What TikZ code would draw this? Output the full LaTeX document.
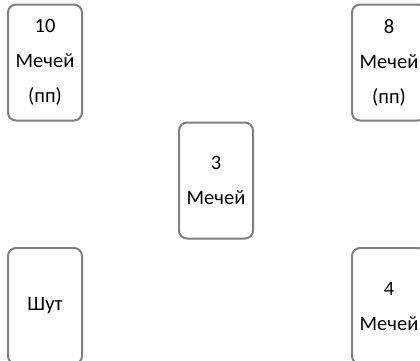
\documentclass[tikz,border=0pt]{standalone}
\usepackage{fontspec}
\setmainfont{Carlito}
\usepackage{tikz}

\begin{document}
\begin{tikzpicture}[x=1pt, y=-1pt,
card/.style={rectangle, rounded corners=8pt, draw=black!50, line width=2pt, fill=white,
  minimum width=74pt, minimum height=116pt, align=center, inner sep=0pt,
  font=\fontsize{20.5}{35}\selectfont}
]
\useasboundingbox (0,0) rectangle (420,360);
%Cards
\node[card]      (tl)     at (45,62.5)      {10\\Мечей\\(пп)};
\node[card]      (tr)     at (389,62.5)     {8\\Мечей\\(пп)};
\node[card]      (c)      at (216,180.5)    {3\\Мечей};
\node[card]      (bl)     at (45,306)       {Шут};
\node[card]      (br)     at (389,306)      {4\\Мечей};
\end{tikzpicture}
\end{document}
